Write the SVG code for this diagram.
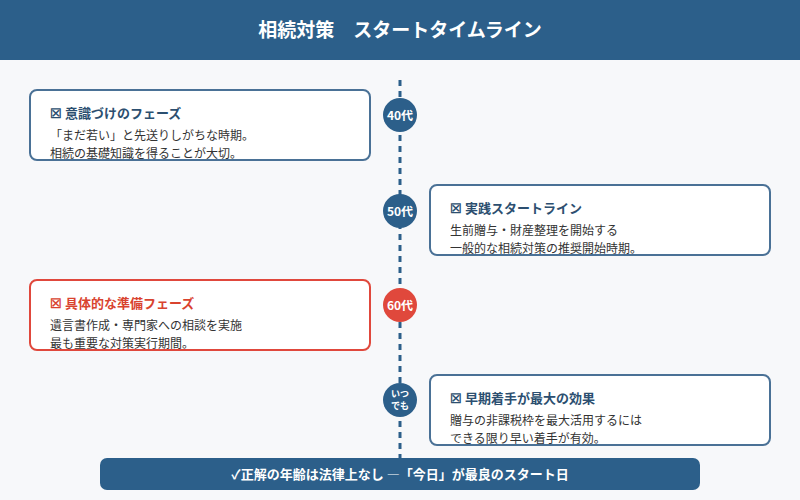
<svg xmlns="http://www.w3.org/2000/svg" width="800" height="500" viewBox="0 0 800 500">
<style>
text{font-family:"Noto Sans CJK JP","Noto Sans",sans-serif}
.card{fill:#fff;stroke:#4a7196;stroke-width:2}
.red{stroke:#e0483c}
.t{font-size:13px;font-weight:bold;fill:#2c4f70}
.tr{fill:#d9432f}
.b{font-size:12px;fill:#333}
.c{fill:#2c5f8a}
.cl{font-size:12px;font-weight:bold;fill:#fff;text-anchor:middle}
</style>
<rect width="800" height="500" fill="#f7f8fa"/>
<rect width="800" height="60" fill="#2c5f8a"/>
<text x="400" y="37" font-size="19" font-weight="bold" fill="#fff" text-anchor="middle">相続対策　スタートタイムライン</text>
<g id="connectors"><line x1="400" y1="80" x2="400" y2="460" stroke="#2c5f8a" stroke-width="3" stroke-dasharray="6,5"/></g>
<g id="m40"><circle cx="400" cy="115" r="17" class="c"/><text x="400" y="120" class="cl">40代</text></g>
<g id="m50"><circle cx="400" cy="211" r="17" class="c"/><text x="400" y="216" class="cl">50代</text></g>
<g id="m60"><circle cx="400" cy="305" r="17" fill="#e0483c"/><text x="400" y="310" class="cl">60代</text></g>
<g id="many"><circle cx="400" cy="400" r="17" class="c"/><text x="400" y="397" class="cl" style="font-size:9px">いつ</text><text x="400" y="409" class="cl" style="font-size:9px">でも</text></g>
<g id="card1"><rect x="30" y="90" width="340" height="70" rx="7" class="card"/><text x="50" y="118" class="t">☒ 意識づけのフェーズ</text><text x="50" y="140" class="b">「まだ若い」と先送りしがちな時期。</text><text x="50" y="158" class="b">相続の基礎知識を得ることが大切。</text></g>
<g id="card2"><rect x="430" y="185" width="340" height="70" rx="7" class="card"/><text x="450" y="213" class="t">☒ 実践スタートライン</text><text x="450" y="235" class="b">生前贈与・財産整理を開始する</text><text x="450" y="253" class="b">一般的な相続対策の推奨開始時期。</text></g>
<g id="card3"><rect x="30" y="280" width="340" height="70" rx="7" class="card red"/><text x="50" y="308" class="t tr">☒ 具体的な準備フェーズ</text><text x="50" y="330" class="b">遺言書作成・専門家への相談を実施</text><text x="50" y="348" class="b">最も重要な対策実行期間。</text></g>
<g id="card4"><rect x="430" y="375" width="340" height="70" rx="7" class="card"/><text x="450" y="403" class="t">☒ 早期着手が最大の効果</text><text x="450" y="425" class="b">贈与の非課税枠を最大活用するには</text><text x="450" y="443" class="b">できる限り早い着手が有効。</text></g>
<g id="footer"><rect x="100" y="458" width="600" height="32" rx="7" fill="#2c5f8a"/><text x="400" y="479" font-size="13" font-weight="bold" fill="#fff" text-anchor="middle">✓正解の年齢は法律上なし ―「今日」が最良のスタート日</text></g>
</svg>
